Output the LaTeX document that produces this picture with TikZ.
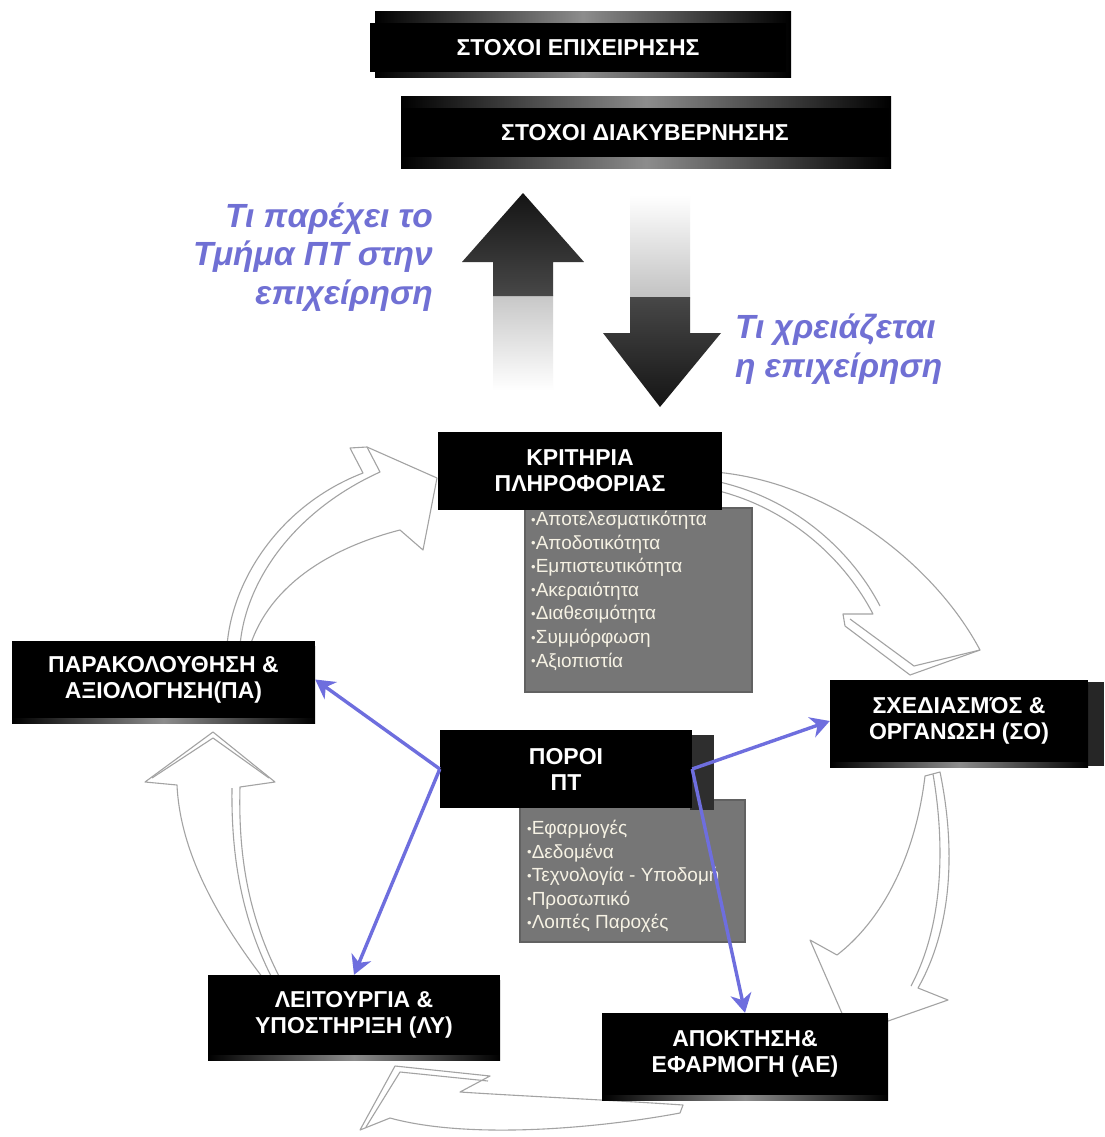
\documentclass[tikz,border=0pt]{standalone}
\usepackage{fontspec}
\setmainfont{Liberation Sans}
\usetikzlibrary{arrows.meta,calc}
\definecolor{bluearr}{RGB}{110,110,222}
\definecolor{bluetxt}{RGB}{112,112,212}
\definecolor{listgray}{RGB}{118,118,118}
\definecolor{listtxt}{RGB}{246,242,228}
\newcommand\lbul{{\fontsize{13}{13}\selectfont\raisebox{1.5pt}{•}}}
\begin{document}
\begin{tikzpicture}[x=1pt,y=-1pt,
  darkbox/.style={fill=black, text=white, align=center, inner sep=0pt,
    font=\bfseries\fontsize{23}{26}\selectfont},
  boxshadow/.style={preaction={draw=none, left color=black, right color=black,
    middle color=black!45, transform canvas={yshift=-5pt}}},
  band/.style={left color=black, right color=black, middle color=black!45},
  listbox/.style={fill=listgray, draw=black!62, line width=1.6pt, inner sep=0pt},
  listtext/.style={text=listtxt, align=left, inner sep=0pt, anchor=north west,
    font=\fontsize{19}{23.6}\selectfont},
  cyc/.style={draw=black!36, line width=1.1pt, fill=white, line join=round},
  cycface/.style={draw=black!36, line width=1.1pt, line join=round},
  link/.style={draw=bluearr, line width=3.4pt,
    -{Stealth[length=19pt,width=21pt,inset=6pt]}},
  bluetext/.style={text=bluetxt, inner sep=0pt,
    font=\bfseries\itshape\fontsize{33.5}{38.8}\selectfont}]

% page
\fill[white] (0,0) rectangle (1104,1137);
\useasboundingbox (0,0) rectangle (1104,1137);

% ---- cycle of outlined curved arrows ----
% monitoring -> information criteria
\draw[cyc] (227,646) .. controls (232,580) and (280,505) .. (363,473) -- (350,448)
  -- (367,447) -- (437,478) -- (423,550) -- (400,530)
  .. controls (330,548) and (270,585) .. (250,646) -- cycle;
\draw[cycface] (240,646) .. controls (245,583) and (292,512) .. (380,472) -- (367,447);
% information criteria -> planning
\draw[cyc] (715,472) .. controls (830,482) and (935,565) .. (980,650) -- (910,675)
  -- (845,626) -- (843,614) -- (873,614)
  .. controls (845,560) and (790,508) .. (715,490) -- cycle;
\draw[cycface] (715,481) .. controls (795,498) and (852,552) .. (880,606);
\draw[cycface] (980,650) -- (914,666) -- (850,619);
% planning -> acquisition
\draw[cyc] (925,776) .. controls (915,860) and (880,922) .. (837,955) -- (810,940)
  -- (851,1034) -- (948,1000) -- (918,988)
  .. controls (952,928) and (956,850) .. (940,772) -- cycle;
\draw[cycface] (933,774) .. controls (946,850) and (942,928) .. (911,986);
% acquisition -> operation
\draw[cyc] (683,1105) .. controls (610,1100) and (520,1096) .. (460,1092) -- (490,1076)
  -- (395,1066) -- (360,1130) -- (390,1118)
  .. controls (470,1140) and (600,1128) .. (680,1113) -- cycle;
\draw[cycface] (366,1127) -- (400,1072) -- (488,1081);
% operation -> monitoring
\draw[cyc] (263,978) .. controls (215,915) and (180,850) .. (177,785) -- (145,782)
  -- (213,732) -- (275,782) -- (240,787)
  .. controls (238,860) and (250,920) .. (280,978) -- cycle;
\draw[cycface] (152,778) -- (213,738) -- (269,778);
\draw[cycface] (232,788) .. controls (231,860) and (243,920) .. (271,976);

% ---- up / down arrows between business and IT ----
\shade[top color=black!22, bottom color=white] (493,295) rectangle (553,390);
\shade[top color=black!92, bottom color=black!72]
  (523,193) -- (584,262) -- (553,262) -- (553,296) -- (493,296) -- (493,262)
  -- (462,262) -- cycle;
\shade[top color=white, bottom color=black!24] (630,195) rectangle (690,298);
\shade[top color=black!72, bottom color=black!92]
  (630,297) -- (690,297) -- (690,333) -- (721,333) -- (660,407) -- (603,333)
  -- (630,333) -- cycle;

% ---- goals ----
\shade[band] (375,12) rectangle (791,78);
\node[darkbox, minimum width=416pt, minimum height=49pt] (bizgoals) at (578,47.5)
  {ΣΤΟΧΟΙ ΕΠΙΧΕΙΡΗΣΗΣ};
\shade[band] (401,97) rectangle (891,168);
\node[darkbox, minimum width=488pt, minimum height=49pt] (govgoals) at (645,132.5)
  {ΣΤΟΧΟΙ ΔΙΑΚΥΒΕΡΝΗΣΗΣ};

% ---- information criteria ----
\node[listbox, minimum width=227pt, minimum height=184pt] (critlist) at (638.5,600) {};
\node[listtext] (crittext) at (531,511)
  {\lbul Αποτελεσματικότητα\\ \lbul Αποδοτικότητα\\ \lbul Εμπιστευτικότητα\\
   \lbul Ακεραιότητα\\ \lbul Διαθεσιμότητα\\ \lbul Συμμόρφωση\\ \lbul Αξιοπιστία};
\node[darkbox, minimum width=284pt, minimum height=78pt] (crit) at (580,471)
  {ΚΡΙΤΗΡΙΑ\\ΠΛΗΡΟΦΟΡΙΑΣ};

% ---- IT resources ----
\node[listbox, minimum width=225pt, minimum height=142pt] (reslist) at (632.5,871) {};
\node[listtext] (restext) at (527,820)
  {\lbul Εφαρμογές\\ \lbul Δεδομένα\\ \lbul Τεχνολογία - Υποδομή\\
   \lbul Προσωπικό\\ \lbul Λοιπές Παροχές};
\fill[black!82] (690,735) rectangle (714,810);
\node[darkbox, minimum width=252pt, minimum height=78pt] (res) at (566,769)
  {ΠΟΡΟΙ\\ΠΤ};

% ---- the four domains ----
\node[darkbox, boxshadow, minimum width=303pt, minimum height=77pt] (pa) at (163.5,679.5)
  {ΠΑΡΑΚΟΛΟΥΘΗΣΗ \&\\ΑΞΙΟΛΟΓΗΣΗ(ΠΑ)};
\fill[black!85] (1080,682) rectangle (1104,766);
\node[darkbox, boxshadow, minimum width=258pt, minimum height=82pt] (so) at (959,721)
  {ΣΧΕΔΙΑΣΜΌΣ \&\\ΟΡΓΑΝΩΣΗ (ΣΟ)};
\node[darkbox, boxshadow, minimum width=292pt, minimum height=80pt] (ly) at (354,1015)
  {ΛΕΙΤΟΥΡΓΙΑ \&\\ΥΠΟΣΤΗΡΙΞΗ (ΛΥ)};
\node[darkbox, boxshadow, minimum width=286pt, minimum height=82pt] (ae) at (745,1054)
  {ΑΠΟΚΤΗΣΗ\&\\ΕΦΑΡΜΟΓΗ (ΑΕ)};

% ---- resources feed every domain ----
\draw[link] (res.west) -- (pa.east);
\draw[link] (res.west) -- (ly.north);
\draw[link] (res.east) -- (so.west);
\draw[link] (res.east) -- (ae.north);

% ---- captions of the up / down arrows ----
\node[bluetext, align=right, anchor=east] (provides) at (433,257)
  {Τι παρέχει το\\Τμήμα ΠΤ στην\\επιχείρηση};
\node[bluetext, align=left, anchor=west] (needs) at (735,349)
  {Τι χρειάζεται\\η επιχείρηση};
\end{tikzpicture}
\end{document}
